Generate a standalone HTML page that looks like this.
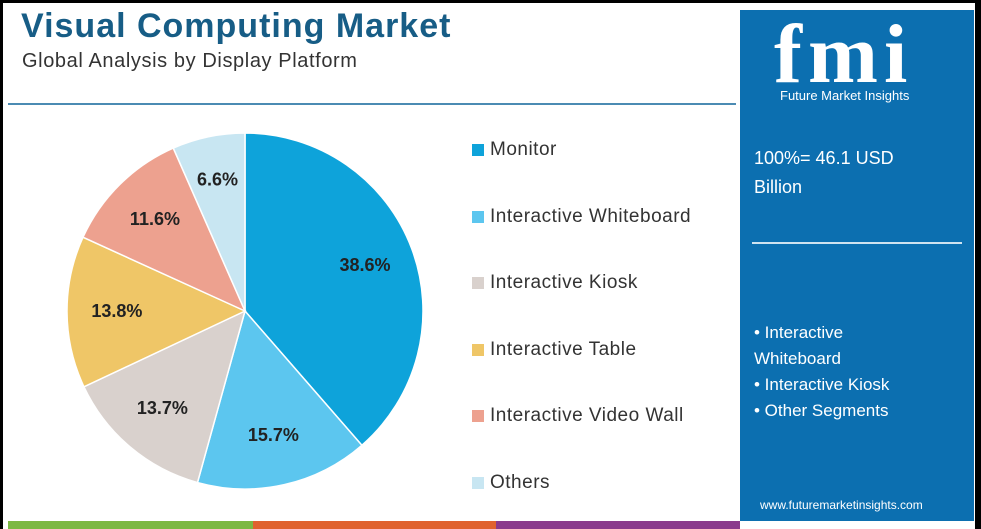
<!DOCTYPE html>
<html><head><meta charset="utf-8"><style>
body{margin:0;width:981px;height:529px;background:#000;overflow:hidden;font-family:"Liberation Sans",sans-serif;position:relative}
#card{position:absolute;left:3px;top:3px;width:972px;height:526px;background:#fff}
.abs{position:absolute}
#title{left:21px;top:7px;font-size:34px;font-weight:bold;color:#175d86;letter-spacing:1px}
#sub{left:22px;top:50px;font-size:20px;color:#333;letter-spacing:0.6px}
#hline{left:8px;top:103px;width:728px;height:2px;background:#4b8bb3}
#panel{left:740px;top:10px;width:234px;height:511px;background:#0c6fb0}
.leg{position:absolute;left:472px;font-size:19px;color:#333;display:flex;align-items:center;letter-spacing:0.5px}
.sw{width:12px;height:12px;margin-right:6px}
.bar{position:absolute;top:521px;height:8px}
</style></head><body>
<div id="card"></div>
<div class="abs" id="title">Visual Computing Market</div>
<div class="abs" id="sub">Global Analysis by Display Platform</div>
<div class="abs" id="hline"></div>
<svg class="abs" style="left:0;top:0" width="740" height="521"><g id="pie"></g></svg>
<div id="legend"></div>
<div class="abs" id="panel">
 <div class="abs" style="left:34px;top:-4px;font-size:84px;font-weight:bold;color:#fff;font-family:'Liberation Serif',serif;letter-spacing:6px">fmi</div>
 <div class="abs" style="left:40px;top:78px;font-size:13px;color:#fff">Future Market Insights</div>
 <div class="abs" style="left:14px;top:134px;font-size:18px;color:#fff;line-height:29px">100%= 46.1 USD<br>Billion</div>
 <div class="abs" style="left:12px;top:232px;width:210px;height:2px;background:#cfe3f0"></div>
 <div class="abs" style="left:14px;top:310px;font-size:17px;color:#fff;line-height:26px">• Interactive<br>Whiteboard<br>• Interactive Kiosk<br>• Other Segments</div>
 <div class="abs" style="left:20px;top:488px;font-size:12px;color:#fff">www.futuremarketinsights.com</div>
</div>
<div class="bar" style="left:8px;width:245px;background:#7cb843"></div>
<div class="bar" style="left:253px;width:243px;background:#e0622f"></div>
<div class="bar" style="left:496px;width:244px;background:#8a3a8c"></div>
<script>
const categories=["Monitor","Interactive Whiteboard","Interactive Kiosk","Interactive Table","Interactive Video Wall","Others"];
const values=[38.6,15.7,13.7,13.8,11.6,6.6];
const labels=["38.6%","15.7%","13.7%","13.8%","11.6%","6.6%"];
const colors=["#0ea3da","#5cc6ef","#d9d1cd","#efc667","#eda18f","#c8e6f2"];
const cx=245,cy=311,r=178,NS="http://www.w3.org/2000/svg";
const g=document.getElementById('pie');
const total=values.reduce((a,b)=>a+b,0);
let a0=0;
values.forEach((v,i)=>{
 const a1=a0+v/total*2*Math.PI;
 const p=(a)=>[cx+r*Math.sin(a),cy-r*Math.cos(a)];
 const [x0,y0]=p(a0),[x1,y1]=p(a1);
 const path=document.createElementNS(NS,'path');
 path.setAttribute('d',`M${cx},${cy}L${x0},${y0}A${r},${r} 0 ${a1-a0>Math.PI?1:0} 1 ${x1},${y1}Z`);
 path.setAttribute('fill',colors[i]);path.setAttribute('stroke','#fff');path.setAttribute('stroke-width','1.5');
 
 
 g.appendChild(path);
 const m=(a0+a1)/2,lr=r*(v<8?0.75:0.72);
 const t=document.createElementNS(NS,'text');
 t.setAttribute('x',cx+lr*Math.sin(m));t.setAttribute('y',cy-lr*Math.cos(m)+5);
 t.setAttribute('text-anchor','middle');t.setAttribute('font-size','18');t.setAttribute('font-weight','bold');t.setAttribute('fill','#222');
 t.setAttribute('font-family','Liberation Sans, sans-serif');
 t.textContent=labels[i];
 
 
 g.appendChild(t);
 a0=a1;
});
const lg=document.getElementById('legend');
categories.forEach((c,i)=>{
 const d=document.createElement('div');d.className='leg';d.style.top=(139+i*66.6)+'px';
 
 
 d.innerHTML=`<span class="sw" style="background:${colors[i]}"></span>${c}`;
 lg.appendChild(d);
});
</script>
</body></html>
